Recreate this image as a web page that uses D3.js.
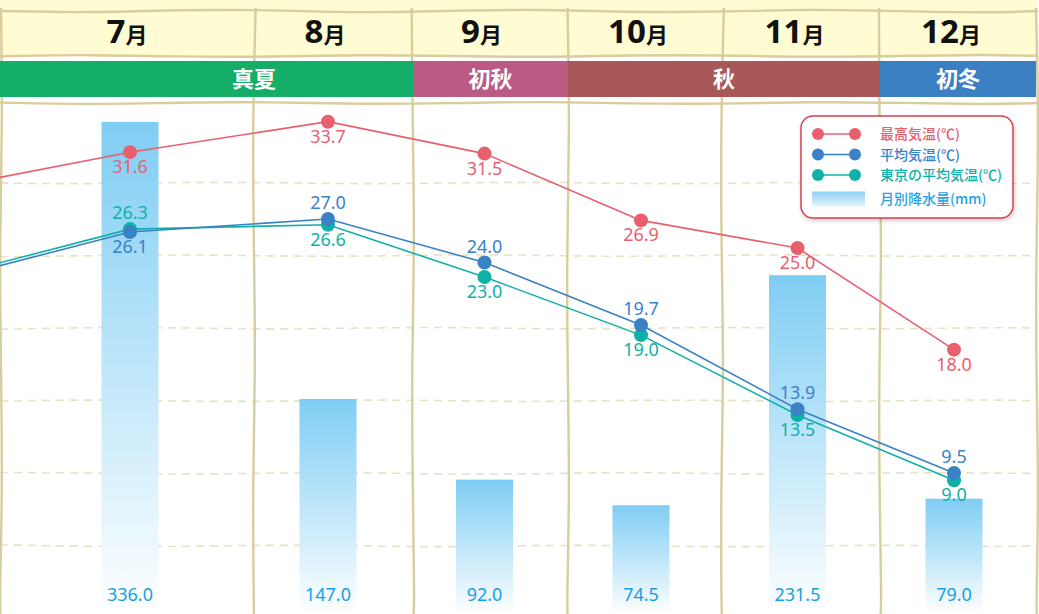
<!DOCTYPE html>
<html>
<head>
<meta charset="utf-8">
<script src="https://cdn.jsdelivr.net/npm/d3@7"></script>
<style>
  html, body { margin: 0; padding: 0; background: #fff; }
  svg { display: block; font-family: "Noto Sans", "Noto Sans CJK JP", sans-serif; }
</style>
</head>
<body>
<div id="chart"></div>
<script>
// data (6月 is cut off at the left edge, only its lines show)
const months    = [6, 7, 8, 9, 10, 11, 12];
const maxTemp   = [29.5, 31.6, 33.7, 31.5, 26.9, 25.0, 18.0];
const avgTemp   = [23.3, 26.1, 27.0, 24.0, 19.7, 13.9, 9.5];
const tokyoTemp = [23.5, 26.3, 26.6, 23.0, 19.0, 13.5, 9.0];
const rain      = [null, 336.0, 147.0, 92.0, 74.5, 231.5, 79.0];

const seasons      = ["真夏", "初秋", "秋", "初冬"];
const seasonStart  = [7, 9, 10, 12];
const seasonEnd    = [8, 9, 11, 12];
const seasonColors = ["#15ae68", "#bc5a84", "#a9585a", "#3a80c3"];

const legendLabels = ["最高気温(℃)", "平均気温(℃)", "東京の平均気温(℃)", "月別降水量(mm)"];

const width = 1039, height = 614;

const svg = d3.select("#chart").append("svg")
  .attr("width", width).attr("height", height);

const defs = svg.append("defs");
const grad = defs.append("linearGradient").attr("id", "rainGrad")
  .attr("x1", 0).attr("y1", 0).attr("x2", 0).attr("y2", 1);
grad.append("stop").attr("offset", "0%").attr("stop-color", "#7fcdf4");
grad.append("stop").attr("offset", "100%").attr("stop-color", "#ffffff");
const grad2 = defs.append("linearGradient").attr("id", "rainGradLeg")
  .attr("x1", 0).attr("y1", 0).attr("x2", 0).attr("y2", 1);
grad2.append("stop").attr("offset", "0%").attr("stop-color", "#8ed1f4");
grad2.append("stop").attr("offset", "100%").attr("stop-color", "#e4f4fd");
const sh = defs.append("filter").attr("id", "shadow").attr("x", "-10%").attr("y", "-10%").attr("width", "130%").attr("height", "130%");
sh.append("feDropShadow").attr("dx", 1).attr("dy", 2).attr("stdDeviation", 2).attr("flood-color", "#000").attr("flood-opacity", 0.2);

// scales
const x = d3.scaleLinear().domain([6, 7, 8, 12]).range([-27, 130, 328, 954]);
const yT = d3.scaleLinear().domain([0, 40]).range([611, 30.2]);
const yR = d3.scaleLinear().domain([0, 400]).range([614.5, 28.1]);

// column edges of the hand-drawn grid
const colEdges = [95, 254, 413, 568, 722, 880, 1036];
const edgeOf = m => colEdges[m - 7];

// little wobble for the hand drawn look
const wave = d3.line().curve(d3.curveBasis);
function wobblyH(x0, x1, y, amp, k) {
  const pts = d3.range(x0, x1 + 1, 90).map((xx, i) => [xx, y + amp * Math.sin(i * 1.9 + k)]);
  pts.push([x1, y]);
  return wave(pts);
}
function wobblyV(xx, y0, y1, amp, k) {
  const pts = d3.range(y0, y1 + 1, 120).map((yy, i) => [xx + amp * Math.sin(i * 2.1 + k), yy]);
  pts.push([xx, y1]);
  return wave(pts);
}

// header
svg.append("rect").attr("x", 0).attr("y", 0).attr("width", 1037).attr("height", 56).attr("fill", "#fffbd2");

// dashed guide lines
const grid = svg.append("g");
d3.range(6).forEach(i => {
  grid.append("path").attr("d", wobblyH(0, 1036, 183 + i * 72.6, 1.2, i))
    .attr("fill", "none").attr("stroke", "#e8e1c4").attr("stroke-width", 1.6)
    .attr("stroke-dasharray", "8,6");
});

// vertical wobbly lines
const vx = [1, 254, 413, 568, 722, 880, 1037];
vx.forEach((v, i) => {
  grid.append("path").attr("d", wobblyV(v, 8, 620, 1.8, i * 2))
    .attr("fill", "none").attr("stroke", "#d8cd9c").attr("stroke-width", 2.4);
});

// horizontal solid header lines
[[11, 2], [56, 1.5], [103, 1.5]].forEach(([y, a], i) => {
  grid.append("path").attr("d", wobblyH(0, 1038, y, a, i * 3))
    .attr("fill", "none").attr("stroke", "#d8cd9c").attr("stroke-width", 2.4);
});

// month labels
const hdr = svg.append("g");
months.forEach(m => {
  if (x(m) < 0) return;
  const t = hdr.append("text").attr("x", x(m) - 3).attr("y", 43)
    .attr("text-anchor", "middle").attr("fill", "#111")
    .attr("font-weight", 700);
  t.append("tspan").attr("font-size", 33).attr("font-family", "'Noto Sans', sans-serif").text(m);
  t.append("tspan").attr("font-size", 22).attr("font-family", "'Noto Sans CJK JP', sans-serif").text("月");
});

// season band
const band = svg.append("g");
seasons.forEach((s, i) => {
  const a = seasonStart[i] === 7 ? 0 : edgeOf(seasonStart[i]);
  const b = edgeOf(seasonEnd[i] + 1);
  band.append("rect").attr("x", a).attr("y", 61).attr("width", b - a).attr("height", 36)
    .attr("fill", seasonColors[i]);
  band.append("text")
    .attr("x", (edgeOf(seasonStart[i]) + b) / 2).attr("y", 87)
    .attr("text-anchor", "middle").attr("fill", "#fff")
    .attr("font-family", "'Noto Sans CJK JP', sans-serif")
    .attr("font-weight", 700).attr("font-size", 22)
    .text(s);
});

// rain bars
const bw = 57;
const bars = svg.append("g");
months.forEach((m, i) => {
  if (rain[i] == null) return;
  bars.append("rect")
    .attr("x", x(m) - bw / 2).attr("y", yR(rain[i]))
    .attr("width", bw).attr("height", yR(0) - yR(rain[i]))
    .attr("fill", "url(#rainGrad)");
  bars.append("text")
    .attr("x", x(m)).attr("y", 601).attr("text-anchor", "middle")
    .attr("fill", "#14a1e4").attr("font-size", 18)
    .text(rain[i].toFixed(1));
});

// temperature lines
const series = [
  { vals: tokyoTemp, color: "#0fb0a8", below: m => m !== 7 },
  { vals: avgTemp,   color: "#3a82c6", below: m => m === 7 },
  { vals: maxTemp,   color: "#e8606e", below: m => true }
];
const line = d3.line().x(d => x(d[0])).y(d => yT(d[1]));
series.forEach(s => {
  const pts = months.map((m, i) => [m, s.vals[i]]);
  svg.append("path").datum(pts).attr("d", line)
    .attr("fill", "none").attr("stroke", s.color).attr("stroke-width", 1.6);
  svg.append("g").selectAll("circle").data(pts).join("circle")
    .attr("cx", d => x(d[0])).attr("cy", d => yT(d[1])).attr("r", 7)
    .attr("fill", s.color);
});
series.forEach(s => {
  svg.append("g").selectAll("text").data(months.map((m, i) => [m, s.vals[i]]).filter(d => x(d[0]) > 0))
    .join("text")
    .attr("x", d => x(d[0])).attr("y", d => yT(d[1]) + (s.below(d[0]) ? 21 : -10))
    .attr("text-anchor", "middle").attr("fill", s.color).attr("font-size", 18)
    .text(d => d[1].toFixed(1));
});

// legend
const lg = svg.append("g").attr("transform", "translate(801,116)");
lg.append("rect").attr("width", 212).attr("height", 102).attr("rx", 12)
  .attr("fill", "#fff").attr("stroke", "#d2424f").attr("stroke-width", 1.5)
  .attr("filter", "url(#shadow)");
const legColors = ["#e8606e", "#3a82c6", "#0fb0a8", "#22a3e2"];
legendLabels.forEach((l, i) => {
  const yy = 18 + i * 20.5;
  if (i < 3) {
    lg.append("line").attr("x1", 17).attr("x2", 54).attr("y1", yy).attr("y2", yy)
      .attr("stroke", legColors[i]).attr("stroke-width", 1.6);
    lg.append("circle").attr("cx", 17).attr("cy", yy).attr("r", 6).attr("fill", legColors[i]);
    lg.append("circle").attr("cx", 54).attr("cy", yy).attr("r", 6).attr("fill", legColors[i]);
  } else {
    lg.append("rect").attr("x", 11).attr("y", yy - 4).attr("width", 53).attr("height", 15)
      .attr("fill", "url(#rainGradLeg)");
  }
  lg.append("text").attr("x", 79).attr("y", yy + (i < 3 ? 5 : 8))
    .attr("fill", legColors[i]).attr("font-size", 14)
    .attr("font-family", "'Noto Sans CJK JP', sans-serif").attr("font-weight", 500)
    .text(l);
});
</script>
</body>
</html>
